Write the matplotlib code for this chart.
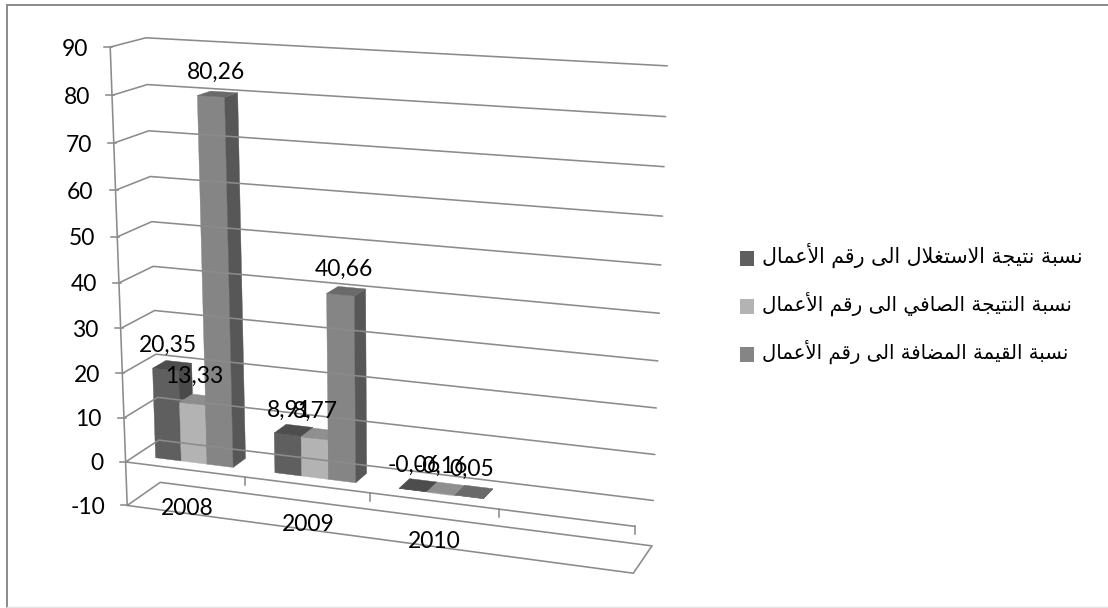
import numpy as np
import matplotlib
matplotlib.use("Agg")
import matplotlib.pyplot as plt
from matplotlib.patches import Polygon, Rectangle

# ---- chart data ----
categories = ["2008", "2009", "2010", ""]
series_names = [
    "نسبة نتيجة الاستغلال الى رقم الأعمال",
    "نسبة النتيجة الصافي الى رقم الأعمال",
    "نسبة القيمة المضافة الى رقم الأعمال",
]
operating_ratio = [20.35, 8.91, -0.06]
net_ratio = [13.33, 8.77, -0.16]
added_value_ratio = [80.26, 40.66, 0.05]
series_values = [operating_ratio, net_ratio, added_value_ratio]
value_ticks = [-10, 0, 10, 20, 30, 40, 50, 60, 70, 80, 90]

# ---- arabic shaping: matplotlib lays text out left to right without joining ----
FORMS = {
    "ا": (0xFE8D, 0xFE8E), "أ": (0xFE83, 0xFE84), "ة": (0xFE93, 0xFE94),
    "ر": (0xFEAD, 0xFEAE), "ى": (0xFEEF, 0xFEF0),
    "ب": (0xFE8F, 0xFE90, 0xFE91, 0xFE92), "ت": (0xFE95, 0xFE96, 0xFE97, 0xFE98),
    "ج": (0xFE9D, 0xFE9E, 0xFE9F, 0xFEA0), "س": (0xFEB1, 0xFEB2, 0xFEB3, 0xFEB4),
    "ص": (0xFEB9, 0xFEBA, 0xFEBB, 0xFEBC), "ض": (0xFEBD, 0xFEBE, 0xFEBF, 0xFEC0),
    "ع": (0xFEC9, 0xFECA, 0xFECB, 0xFECC), "غ": (0xFECD, 0xFECE, 0xFECF, 0xFED0),
    "ف": (0xFED1, 0xFED2, 0xFED3, 0xFED4), "ق": (0xFED5, 0xFED6, 0xFED7, 0xFED8),
    "ل": (0xFEDD, 0xFEDE, 0xFEDF, 0xFEE0), "م": (0xFEE1, 0xFEE2, 0xFEE3, 0xFEE4),
    "ن": (0xFEE5, 0xFEE6, 0xFEE7, 0xFEE8), "ي": (0xFEF1, 0xFEF2, 0xFEF3, 0xFEF4),
}
LAM_ALEF = {"ا": (0xFEFB, 0xFEFC), "أ": (0xFEF7, 0xFEF8)}


def shape_arabic(text):
    out = []
    i = 0
    n = len(text)
    while i < n:
        ch = text[i]
        if ch == " ":
            out.append(ch)
            i += 1
            continue
        prev = text[i - 1] if i else " "
        joins_prev = prev != " " and len(FORMS[prev]) == 4
        if ch == "ل" and i + 1 < n and text[i + 1] in LAM_ALEF:
            out.append(chr(LAM_ALEF[text[i + 1]][1 if joins_prev else 0]))
            i += 2
            continue
        forms = FORMS[ch]
        nxt = text[i + 1] if i + 1 < n else " "
        joins_next = len(forms) == 4 and nxt != " "
        if joins_prev and joins_next:
            code = forms[3]
        elif joins_prev:
            code = forms[1]
        elif joins_next:
            code = forms[2]
        else:
            code = forms[0]
        out.append(chr(code))
        i += 1
    return "".join(reversed(out))


# ---- perspective: (axis fraction, value, depth) -> figure pixel ----
ANCHORS = [
    ((0, -10, 0), (128, 505)), ((1, -10, 0), (633, 573)),
    ((0, -10, 1), (160, 483)), ((1, -10, 1), (652, 546)),
    ((0, 0, 0), (126, 462)), ((1, 0, 0), (635, 527)),
    ((0, 0, 1), (158, 440)), ((1, 0, 1), (653, 500)),
    ((0, 90, 0), (109, 47)), ((0, 90, 1), (147, 38)), ((1, 90, 1), (667, 66)),
    ((0, 40, 1), (153, 266)), ((1, 40, 1), (660, 313)),
]


def fit_camera(anchors):
    rows, rhs = [], []
    for (a, b, c), (px, py) in anchors:
        rows.append([a, b, c, 1, 0, 0, 0, 0, -px * a, -px * b, -px * c])
        rows.append([0, 0, 0, 0, a, b, c, 1, -py * a, -py * b, -py * c])
        rhs += [px, py]
    sol = np.linalg.lstsq(np.array(rows, float), np.array(rhs, float), rcond=None)[0]
    return np.append(sol, 1.0).reshape(3, 4)


CAMERA = fit_camera(ANCHORS)


def project(a, b, c):
    p = CAMERA @ np.array([a, b, c, 1.0])
    return p[0] / p[2], p[1] / p[2]


# ---- figure ----
LINE = "#8b8b8b"
NUM_FONT = "Lato"
NUM_SIZE = 16.5
fig = plt.figure(figsize=(11.08, 6.08), dpi=100)
ax = fig.add_axes([0, 0, 1, 1])
ax.set_xlim(0, 1108)
ax.set_ylim(608, 0)
ax.axis("off")

# outer chart frame
ax.plot([7, 7], [608, 5], color="#8a8a8a", lw=1.4)
ax.plot([7, 1108], [5, 5], color="#8a8a8a", lw=1.4)
ax.plot([7, 1108], [607, 607], color="#e4e4e4", lw=1.0)


def line3d(points, **kw):
    xy = [project(*p) for p in points]
    ax.plot([q[0] for q in xy], [q[1] for q in xy], color=LINE, lw=1.15,
            solid_capstyle="round", solid_joinstyle="round", **kw)


# walls, floor and axes
for v in value_ticks:
    line3d([(0, v, 0), (0, v, 1), (1, v, 1)])
    x0, y0 = project(0, v, 0)
    ax.plot([x0 - 6, x0 + 2], [y0, y0], color=LINE, lw=1.15)
    ax.text(x0 - 22, y0 + 2, str(v), ha="right", va="center",
            family=NUM_FONT, fontsize=NUM_SIZE, color="black")
line3d([(0, -10, 0), (0, 90, 0)])
line3d([(0, -10, 0), (1, -10, 0), (1, -10, 1)])
line3d([(0, 0, 0), (1, 0, 0)])

n_cat = len(categories)
for i in range(1, n_cat + 1):
    x0, y0 = project(i / n_cat, 0, 0)
    ax.plot([x0, x0], [y0, y0 + 8], color=LINE, lw=1.15)

for i, name in enumerate(categories):
    x0, y0 = project((i + 0.5) / n_cat, -10, 0)
    ax.text(x0 + 1, y0 - 5, name, ha="center", va="center",
            family=NUM_FONT, fontsize=NUM_SIZE, color="black")

# 3D bars
FRONT = ["#5f5f5f", "#b3b3b3", "#858585"]
TOP = ["#4d4d4d", "#8f8f8f", "#6a6a6a"]
SIDE = ["#4a4a4a", "#8a8a8a", "#575757"]
GROUP_START, GROUP_END = 0.17, 0.825
DEPTH_FRONT, DEPTH_BACK = 0.30, 0.70
LABEL_OFFSET = [(-4, -20), (-5, -23), (-2, -22)]
bar_w = (GROUP_END - GROUP_START) / len(series_values)


def face(corners, color):
    ax.add_patch(Polygon([project(*c) for c in corners], closed=True,
                         facecolor=color, edgecolor=color, lw=0.3))


labels = []
for c in range(len(categories) - 1):
    for s, values in enumerate(series_values):
        val = values[c]
        a0 = (c + GROUP_START + s * bar_w) / n_cat
        a1 = (c + GROUP_START + (s + 1) * bar_w) / n_cat
        lo, hi = min(val, 0), max(val, 0)
        d0, d1 = DEPTH_FRONT, DEPTH_BACK
        face([(a0, lo, d0), (a1, lo, d0), (a1, hi, d0), (a0, hi, d0)], FRONT[s])
        face([(a1, lo, d0), (a1, lo, d1), (a1, hi, d1), (a1, hi, d0)], SIDE[s])
        face([(a0, hi, d0), (a1, hi, d0), (a1, hi, d1), (a0, hi, d1)], TOP[s])
        lx, ly = project((a0 + a1) / 2, val, 0.5)
        labels.append((lx + LABEL_OFFSET[s][0], ly + LABEL_OFFSET[s][1], val))

for lx, ly, val in labels:
    ax.text(lx, ly, f"{val:.2f}".replace(".", ","), ha="center", va="center",
            family=NUM_FONT, fontsize=NUM_SIZE, color="black", zorder=6)

# legend
LEGEND_Y = [258.5, 306.5, 354.5]
LEGEND_SIZE = [14.8, 14.4, 14.1]
for name, color, y, size in zip(series_names, FRONT, LEGEND_Y, LEGEND_SIZE):
    ax.add_patch(Rectangle((740, y - 7.5), 14, 15, facecolor=color, edgecolor="none"))
    ax.text(762, y - 3, shape_arabic(name), ha="left", va="center",
            family="DejaVu Sans", fontsize=size, color="black")

fig.savefig("out.png", dpi=100, facecolor="white")
